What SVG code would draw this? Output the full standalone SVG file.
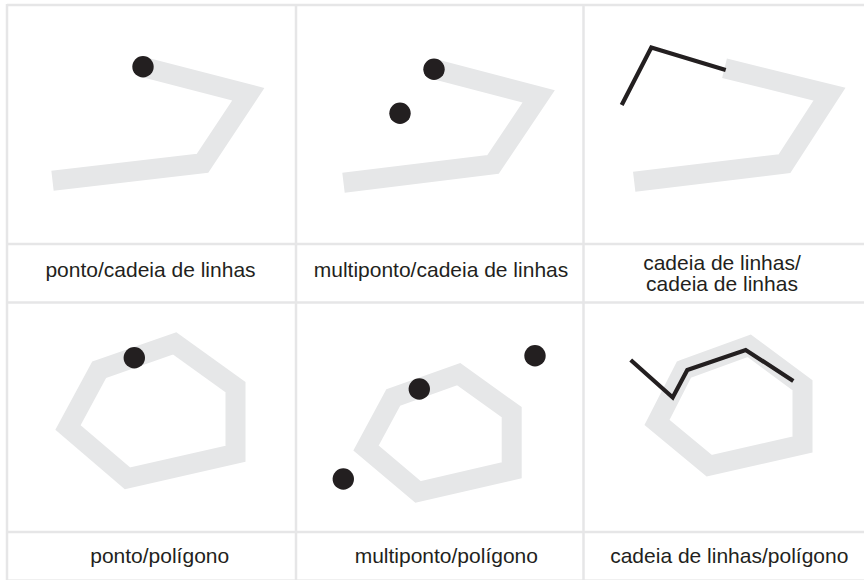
<svg xmlns="http://www.w3.org/2000/svg" width="864" height="580" viewBox="0 0 864 580">
<style>
.grid{stroke:#e6e6e7;stroke-width:2.5;fill:none}
.band{fill:none;stroke:#e6e7e8;stroke-width:20;stroke-linejoin:miter;stroke-linecap:butt}
.line{fill:none;stroke:#231f20;stroke-width:4.2;stroke-linejoin:miter;stroke-linecap:butt}
.dot{fill:#231f20}
.lbl{font-family:"Liberation Sans",Arial,sans-serif;font-size:21px;fill:#231f20;text-anchor:middle}
</style>
<rect width="864" height="580" fill="#ffffff"/>
<g id="grid">
<line class="grid" x1="7" y1="5" x2="864" y2="5"/>
<line class="grid" x1="7" y1="244" x2="864" y2="244"/>
<line class="grid" x1="7" y1="302.5" x2="864" y2="302.5"/>
<line class="grid" x1="7" y1="532" x2="864" y2="532"/>
<line x1="7" y1="579.5" x2="864" y2="579.5" stroke="#f0f0f0" stroke-width="1"/>
<line class="grid" x1="7" y1="4" x2="7" y2="580"/>
<line class="grid" x1="296" y1="4" x2="296" y2="580"/>
<line class="grid" x1="583.5" y1="4" x2="583.5" y2="580"/>
</g>
<g id="cell1">
<polyline class="band" points="143,67 248.3,94.2 202.5,163.3 52.5,180.7"/>
<circle class="dot" cx="143" cy="66.7" r="10.7"/>
<text class="lbl" x="150.5" y="277">ponto/cadeia de linhas</text>
</g>
<g id="cell2">
<polyline class="band" points="434,69 538.7,96.3 493,164.5 343.5,182.7"/>
<circle class="dot" cx="434" cy="69.3" r="10.7"/>
<circle class="dot" cx="400" cy="113.3" r="10.7"/>
<text class="lbl" x="441" y="277">multiponto/cadeia de linhas</text>
</g>
<g id="cell3">
<polyline class="band" points="724.5,68.3 829.5,94.2 784.5,163.7 634.2,181.7"/>
<polyline class="line" points="621.7,105 651.3,47.5 725.7,70"/>
<text class="lbl" x="722" y="270">cadeia de linhas/</text>
<text class="lbl" x="722" y="291">cadeia de linhas</text>
</g>
<g id="cell4">
<polygon class="band" points="99.2,369.7 174.7,343.3 235.5,387.2 235.5,453.8 127.5,478.3 68,427.5"/>
<circle class="dot" cx="134.3" cy="357.7" r="10.7"/>
<text class="lbl" x="159.7" y="563">ponto/polígono</text>
</g>
<g id="cell5">
<polygon class="band" points="393.3,397.5 458.7,374.2 511.7,412.2 511.7,470.3 418,492 366,448"/>
<circle class="dot" cx="419.3" cy="389" r="10.7"/>
<circle class="dot" cx="535" cy="355.7" r="10.7"/>
<circle class="dot" cx="343.3" cy="479" r="10.7"/>
<text class="lbl" x="446.3" y="563">multiponto/polígono</text>
</g>
<g id="cell6">
<polygon class="band" points="684,369.5 749.2,345.8 802.5,385.3 802.5,444.5 709.2,465.7 657,422.5"/>
<polyline class="line" points="630.7,360 672.7,397.5 687.3,370 745.7,350 793.3,381"/>
<text class="lbl" x="729.3" y="563">cadeia de linhas/polígono</text>
</g>
</svg>
